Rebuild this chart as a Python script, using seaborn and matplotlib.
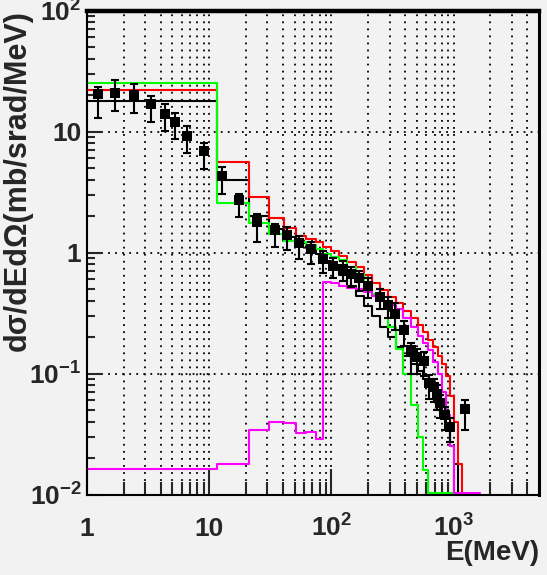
import numpy as np
import matplotlib
matplotlib.use("Agg")
import matplotlib.pyplot as plt
import matplotlib.ticker as mticker
import seaborn as sns

# ---------------- data ----------------
edges = [1, 11.5, 21, 31, 41, 51, 62, 75, 85, 100, 115, 135, 160, 185, 215, 250,
         290, 335, 385, 445, 510, 560, 620, 680, 740, 800, 870, 940, 1010, 1090,
         1180, 1350, 1640]

red_vals = [22, 5.65, 2.9, 1.94, 1.58, 1.38, 1.30, 1.21, 1.12, 1.02, 0.93, 0.84,
            0.76, 0.65, 0.56, 0.49, 0.43, 0.38, 0.33, 0.29, 0.25, 0.22, 0.19,
            0.165, 0.14, 0.12, 0.095, 0.065, 0.04, 0.018]
green_vals = [25, 2.55, 1.74, 1.43, 1.25, 1.22, 1.15, 1.06, 0.98, 0.92, 0.86,
              0.76, 0.66, 0.56, 0.45, 0.34, 0.24, 0.16, 0.10, 0.055, 0.030,
              0.016, 0, 0, 0, 0, 0, 0]
magenta_vals = [0.0164, 0.018, 0.0344, 0.040, 0.0387, 0.032, 0.033, 0.029,
                0.575, 0.555, 0.53, 0.51, 0.50, 0.47, 0.44, 0.40, 0.37, 0.34,
                0.29, 0.24, 0.205, 0.18, 0.155, 0.125, 0.10, 0.07, 0.045,
                0.025, 0, 0, 0, 0]
black_vals = [17.7, 4.0, 2.0, 1.55, 1.35, 1.2, 1.08, 0.98, 0.85, 0.75, 0.65,
              0.53, 0.44, 0.36, 0.30, 0.24, 0.20, 0.165, 0.14, 0.12, 0.105,
              0.09, 0.077, 0.065, 0.055, 0.046, 0.035, 0.025, 0.018]

data_E = [1.24, 1.70, 2.44, 3.33, 4.36, 5.26, 6.64, 9.0, 12.7, 17.4, 24.5, 34.7,
          43.4, 54, 68, 85, 104, 124, 145, 167, 200, 251, 290, 334, 390, 444,
          505, 573, 626, 685, 734, 780, 850, 940, 1250]
data_y = [20.4, 21.0, 19.9, 16.8, 13.9, 11.9, 9.2, 6.9, 4.3, 2.7, 1.80, 1.52,
          1.40, 1.20, 1.06, 0.88, 0.78, 0.73, 0.66, 0.61, 0.53, 0.43, 0.37,
          0.31, 0.23, 0.155, 0.137, 0.128, 0.083, 0.077, 0.068, 0.057, 0.045,
          0.036, 0.051]
data_lo = [13.0, 14.8, 14.3, 11.9, 10.1, 8.7, 6.7, 4.9, 3.05, 1.95, 1.22, 1.10,
           1.04, 0.89, 0.80, 0.68, 0.61, 0.58, 0.52, 0.48, 0.42, 0.34, 0.29,
           0.228, 0.17, 0.10, 0.10, 0.095, 0.062, 0.058, 0.05, 0.043, 0.034,
           0.027, 0.034]
data_hi = [23.4, 26.7, 24.7, 19.8, 16.9, 14.3, 11.1, 8.0, 5.1, 3.05, 2.08, 1.72,
           1.62, 1.38, 1.22, 1.02, 0.90, 0.85, 0.76, 0.70, 0.61, 0.50, 0.43,
           0.38, 0.27, 0.18, 0.16, 0.15, 0.097, 0.09, 0.08, 0.067, 0.053,
           0.043, 0.060]

x_ticks = [1, 10, 100, 1000]
x_labels = ["1", "10", r"$10^{2}$", r"$10^{3}$"]
y_ticks = [0.01, 0.1, 1, 10, 100]
y_labels = [r"$10^{-2}$", r"$10^{-1}$", "1", "10", r"$10^{2}$"]
xlabel = "E(MeV)"
ylabel = "dσ/dEdΩ(mb/srad/MeV)"

XMIN, XMAX = 1, 5000
YMIN, YMAX = 0.01, 100

# ---------------- style ----------------
sns.set_style("white")
bg = "#f2f2f2"
plt.rcParams["font.family"] = ["Liberation Sans", "DejaVu Sans"]
plt.rcParams["font.weight"] = "bold"
plt.rcParams["mathtext.fontset"] = "custom"
plt.rcParams["mathtext.rm"] = "Liberation Sans:bold"
plt.rcParams["mathtext.bf"] = "Liberation Sans:bold"
plt.rcParams["mathtext.it"] = "Liberation Sans:bold"
plt.rcParams["mathtext.default"] = "rm"

fig = plt.figure(figsize=(5.47, 5.75), dpi=100, facecolor=bg)
ax = fig.add_axes([87 / 547, 1 - 494.5 / 575, 452 / 547, 484 / 575])
ax.set_facecolor(bg)
ax.set_xscale("log")
ax.set_yscale("log")

floor = YMIN * 1.03


def hist(vals, color):
    n = len(vals)
    xs = np.array(edges[: n + 1], dtype=float)
    ys = np.clip(np.array(list(vals) + [0.0], dtype=float), floor, None)
    sns.lineplot(x=xs, y=ys, drawstyle="steps-post", color=color,
                 linewidth=1.5, estimator=None, sort=False, ax=ax, zorder=3)


hist(black_vals, "black")
hist(red_vals, "#ff0000")
hist(green_vals, "#00ff00")
hist(magenta_vals, "#ff00ff")

dy = np.array(data_y)
yerr = [dy - np.array(data_lo), np.array(data_hi) - dy]
ax.errorbar(data_E, data_y, yerr=yerr, fmt="none", ecolor="black",
            elinewidth=1.5, capsize=3, capthick=1.5, zorder=4)
sns.scatterplot(x=data_E, y=data_y, marker="s", s=55, color="black",
                edgecolor="black", linewidth=0, ax=ax, zorder=5)

ax.set_xlim(XMIN, XMAX)
ax.set_ylim(YMIN, YMAX)

# ticks
ax.xaxis.set_major_locator(mticker.FixedLocator(x_ticks))
ax.xaxis.set_minor_locator(mticker.LogLocator(base=10, subs=np.arange(2, 10), numticks=20))
ax.yaxis.set_major_locator(mticker.FixedLocator(y_ticks))
ax.yaxis.set_minor_locator(mticker.LogLocator(base=10, subs=np.arange(2, 10), numticks=20))
ax.xaxis.set_minor_formatter(mticker.NullFormatter())
ax.yaxis.set_minor_formatter(mticker.NullFormatter())
ax.set_xticklabels(x_labels, va="baseline", fontsize=19, fontweight="bold")
ax.set_yticklabels(y_labels, fontsize=19, fontweight="bold")

ax.tick_params(axis="x", which="major", direction="in", length=19, width=1.5,
               pad=30, bottom=True, top=False)
ax.tick_params(axis="x", which="minor", direction="in", length=9.5, width=1.5,
               bottom=True, top=False)
ax.tick_params(axis="y", which="major", direction="in", length=11, width=1.5,
               pad=4, left=True, right=False)
ax.tick_params(axis="y", which="minor", direction="in", length=6, width=1.5,
               left=True, right=False)

# grid
ax.grid(True, axis="x", which="both", color="black", linewidth=1.3,
        linestyle=(0, (1, 2.9)))
ax.grid(True, axis="y", which="major", color="black", linewidth=1.3,
        linestyle=(0, (1, 2.9)))
ax.set_axisbelow(True)

# frame
for s in ["left", "bottom"]:
    ax.spines[s].set_linewidth(1.5)
ax.spines["top"].set_linewidth(3.2)
ax.spines["right"].set_linewidth(2.2)
for s in ax.spines.values():
    s.set_color("black")
    s.set_zorder(6)

# labels
ax.set_xlabel(xlabel, fontsize=20, fontweight="bold", loc="right")
ax.xaxis.set_label_coords(1.0, -0.094)
ax.set_ylabel(ylabel, fontsize=22, fontweight="bold", loc="top")
ax.yaxis.set_label_coords(-0.119, 1.0)

fig.savefig("out.png", dpi=100, facecolor=bg)
